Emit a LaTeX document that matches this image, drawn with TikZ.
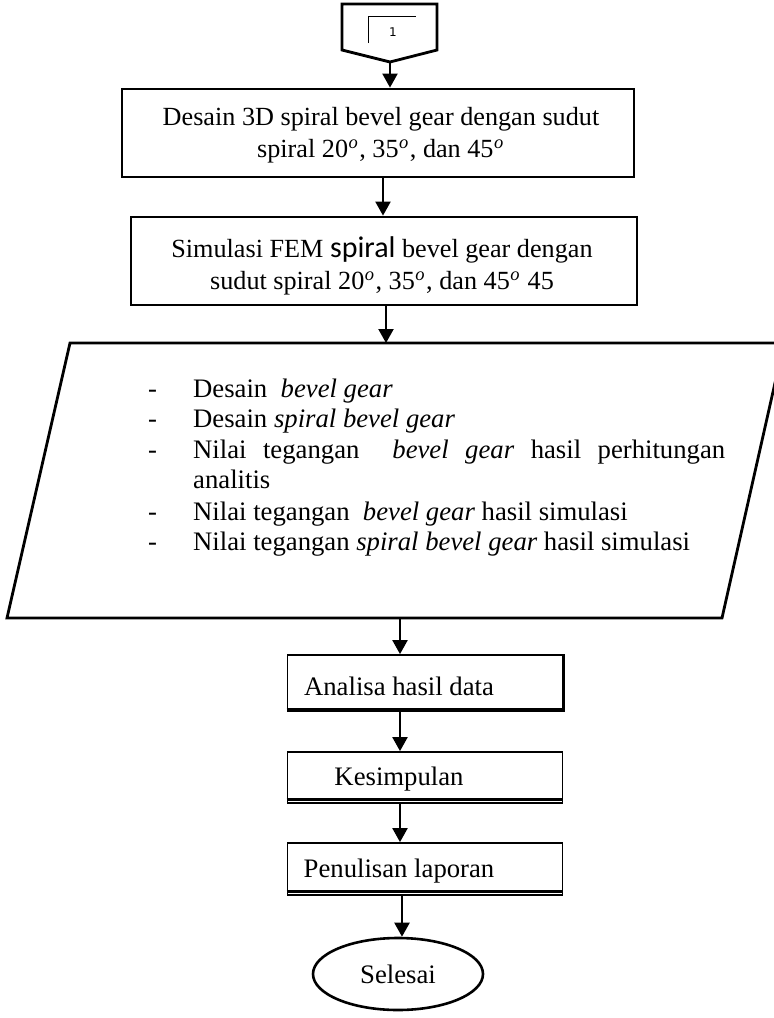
\documentclass[tikz,border=0pt]{standalone}
\usepackage{fontspec}
\setmainfont{Liberation Serif}
\newfontfamily\calfont{Carlito}
\newfontfamily\dejafont{DejaVu Sans}
\usetikzlibrary{arrows.meta,shapes.geometric}
\newcommand\myboxfont{\fontsize{26.2}{32}\selectfont}
\newcommand\mybodyfont{\fontsize{26.7}{31}\selectfont}
\newcommand\dego{\kern0.5pt\raisebox{9pt}{\fontsize{18.5}{18}\selectfont\itshape o}\kern1.5pt}
\begin{document}
\begin{tikzpicture}[x=1pt,y=-1pt,
  arr/.style={-{Triangle[width=15pt,length=14pt]}, line width=2.2pt},
  bigbox/.style={draw, line width=2.8pt, minimum height=88pt, inner sep=0pt},
  boxtext/.style={inner sep=0pt, align=center, font=\myboxfont},
  smallbox/.style={draw, line width=1.8pt, minimum width=275pt, inner sep=0pt, font=\mybodyfont},
  item/.style={anchor=base west, inner sep=0pt, font=\mybodyfont}]
\path[use as bounding box] (0,0) rectangle (774,1018);
\clip (0,0) rectangle (774,1018);
% off-page connector
\draw[line width=2.8pt] (342,4) -- (437,4) -- (437,50) -- (390,62) -- (342,50) -- cycle;
\draw[line width=1pt] (368,43) -- (368,16) -- (416,16);
\node[font=\dejafont\fontsize{12}{14}\selectfont, inner sep=0pt] (one) at (393,32) {1};
\coordinate (conn) at (390,62);
% boxes
\node[bigbox, minimum width=512pt] (b1) at (378,133) {};
\node[boxtext] (b1t) at (381,135) {Desain 3D spiral bevel gear dengan sudut\\spiral 20\dego, 35\dego, dan 45\dego};
\node[bigbox, minimum width=506pt] (b2) at (384,261) {};
\node[boxtext] (b2t) at (382,266) {Simulasi FEM {\calfont\fontsize{30}{32}\selectfont spiral} bevel gear dengan\\sudut spiral 20\dego, 35\dego, dan 45\dego{} 45};
% parallelogram
\draw[line width=2.8pt] (70,343) -- (784,343) -- (722,618) -- (7,618) -- cycle;
\coordinate (pin) at (386,343);
\coordinate (pout) at (400,618);
\node[item] (d1) at (148,397) {-};
\node[item] (t1) at (193,397) {Desain\ \ \textit{bevel gear}};
\node[item] (d2) at (148,427) {-};
\node[item] (t2) at (193,427) {Desain \textit{spiral bevel gear}};
\node[item] (d3) at (148,458) {-};
\node[item] (t3) at (193,458) {\makebox[532pt][s]{Nilai tegangan\ \ \textit{bevel gear} hasil perhitungan}};
\node[item] (t4) at (193,488) {analitis};
\node[item] (d5) at (148,520) {-};
\node[item] (t5) at (193,520) {Nilai tegangan\ \ \textit{bevel gear} hasil simulasi};
\node[item] (d6) at (148,550) {-};
\node[item] (t6) at (193,550) {Nilai tegangan \textit{spiral bevel gear} hasil simulasi};
% small boxes
\node[smallbox, minimum height=54pt] (b3) at (425,682) {};
\node[font=\mybodyfont, inner sep=0pt] (t7) at (399,686) {Analisa hasil data};
\node[smallbox, minimum height=51pt] (b4) at (425,777.5) {};
\node[font=\mybodyfont, inner sep=0pt] (t8) at (399,779) {Kesimpulan};
\node[smallbox, minimum height=52pt] (b5) at (425,869) {};
\node[font=\mybodyfont, inner sep=0pt] (t9) at (399,871) {Penulisan laporan};
\draw[line width=3.5pt] (b3.south west) -- (b3.south east) -- (b3.north east);
\draw[line width=2.6pt] ([yshift=4.5]b4.south west) -- ([yshift=4.5]b4.south east);
\draw[line width=2.6pt] ([yshift=4.5]b5.south west) -- ([yshift=4.5]b5.south east);
% terminator
\node[draw, ellipse, line width=2.6pt, minimum width=170pt, minimum height=72pt, inner sep=0pt, font=\mybodyfont] (end) at (398,974) {Selesai};
% connectors
\draw[arr] (conn) -- (conn |- b1.north);
\draw[arr] ([xshift=5]b1.south) -- ([xshift=5]b1.south |- b2.north);
\draw[arr] ([xshift=2]b2.south) -- (pin);
\draw[arr] (pout) -- (pout |- b3.north);
\draw[arr] (pout |- b3.south) -- (pout |- b4.north);
\draw[arr] (pout |- b4.south) -- (pout |- b5.north);
\draw[arr] ([xshift=2]pout |- b5.south) -- ([xshift=2]pout |- end.north);
\end{tikzpicture}
\end{document}
